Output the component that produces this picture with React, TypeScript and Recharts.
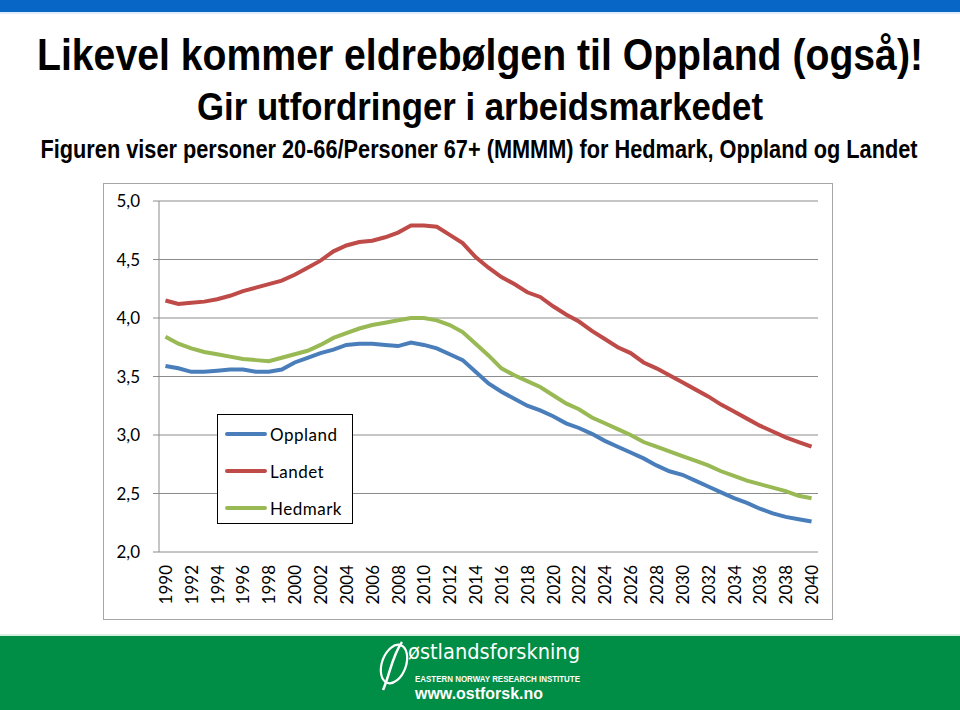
import React from 'react';
import { LineChart, Line, XAxis, YAxis, CartesianGrid } from 'recharts';

// Categories: one point per year
const years = Array.from({ length: 51 }, (_, i) => 1990 + i);

// Personer 20-66 / personer 67+ (MMMM)
const oppland = [
  3.59, 3.57, 3.54, 3.54, 3.55, 3.56, 3.56, 3.54, 3.54, 3.56,
  3.62, 3.66, 3.70, 3.73, 3.77, 3.78, 3.78, 3.77, 3.76, 3.79,
  3.77, 3.74, 3.69, 3.64, 3.54, 3.44, 3.37, 3.31, 3.25, 3.21,
  3.16, 3.10, 3.06, 3.01, 2.95, 2.90, 2.85, 2.80, 2.74, 2.69,
  2.66, 2.61, 2.56, 2.51, 2.46, 2.42, 2.37, 2.33, 2.30, 2.28, 2.26,
];
const landet = [
  4.15, 4.12, 4.13, 4.14, 4.16, 4.19, 4.23, 4.26, 4.29, 4.32,
  4.37, 4.43, 4.49, 4.57, 4.62, 4.65, 4.66, 4.69, 4.73, 4.79,
  4.79, 4.78, 4.71, 4.64, 4.52, 4.43, 4.35, 4.29, 4.22, 4.18,
  4.10, 4.03, 3.97, 3.89, 3.82, 3.75, 3.70, 3.62, 3.57, 3.51,
  3.45, 3.39, 3.33, 3.26, 3.20, 3.14, 3.08, 3.03, 2.98, 2.94, 2.90,
];
const hedmark = [
  3.84, 3.78, 3.74, 3.71, 3.69, 3.67, 3.65, 3.64, 3.63, 3.66,
  3.69, 3.72, 3.77, 3.83, 3.87, 3.91, 3.94, 3.96, 3.98, 4.00,
  4.00, 3.98, 3.94, 3.88, 3.78, 3.68, 3.57, 3.51, 3.46, 3.41,
  3.34, 3.27, 3.22, 3.15, 3.10, 3.05, 3.00, 2.94, 2.90, 2.86,
  2.82, 2.78, 2.74, 2.69, 2.65, 2.61, 2.58, 2.55, 2.52, 2.48, 2.46,
];

const yTicks = [2.0, 2.5, 3.0, 3.5, 4.0, 4.5, 5.0];
const labelYears = years.filter((y) => y % 2 === 0);
const tickBounds = [...years.map((y) => y - 0.5), 2040.5];

const series = [
  { key: 'oppland', name: 'Oppland', color: '#4a7ebb' },
  { key: 'landet', name: 'Landet', color: '#be4b48' },
  { key: 'hedmark', name: 'Hedmark', color: '#98b954' },
];

const data = years.map((year, i) => ({
  year,
  oppland: oppland[i],
  landet: landet[i],
  hedmark: hedmark[i],
}));

const chartFont = 'Lato, "Open Sans", sans-serif';
const titleFont = '"Liberation Sans Narrow", "Liberation Sans", Arial, sans-serif';

// condensed bold heading: smaller font stretched vertically, fitted to width
const Heading = ({ y, size, stretch, width, cx = 480, children }: any) => (
  <text
    transform={`translate(${cx},${y}) scale(1,${stretch})`}
    textAnchor="middle"
    fontFamily={titleFont}
    fontWeight="bold"
    fontSize={size}
    textLength={width}
    lengthAdjust="spacingAndGlyphs"
  >
    {children}
  </text>
);

const YearTick = (props: any) => {
  const { x, y, payload } = props;
  return (
    <text
      transform={`translate(${x},${y + 5}) rotate(-90)`}
      textAnchor="end"
      dominantBaseline="central"
      fontSize={17}
      fontFamily={chartFont}
      fill="#000"
    >
      {payload.value}
    </text>
  );
};

const Legend = () => (
  <div
    style={{
      position: 'absolute',
      left: 217,
      top: 414,
      width: 134,
      height: 108,
      border: '1px solid #000',
      background: '#fff',
      fontFamily: chartFont,
      fontSize: 17,
    }}
  >
    {series.map((s, i) => (
      <div
        key={s.key}
        style={{ position: 'absolute', left: 7, top: 8 + i * 37, height: 22, display: 'flex', alignItems: 'center' }}
      >
        <div style={{ width: 42, height: 4, background: s.color, borderRadius: 2 }} />
        <span style={{ marginLeft: 3, letterSpacing: 0.5 }}>{s.name}</span>
      </div>
    ))}
  </div>
);

export default function App() {
  return (
    <div style={{ position: 'absolute', left: 0, top: 0, width: 960, height: 710, background: '#fff', overflow: 'hidden' }}>
      <svg width={960} height={175} style={{ position: 'absolute', left: 0, top: 0 }}>
        <rect x={0} y={0} width={960} height={12} fill="#0766c6" />
        <rect x={0} y={12} width={960} height={2} fill="#dfeefa" />
        <Heading y={70} size={39} stretch={1.15} width={886}>
          Likevel kommer eldrebølgen til Oppland (også)!
        </Heading>
        <Heading y={120} size={37} stretch={1.05} width={566}>
          Gir utfordringer i arbeidsmarkedet
        </Heading>
        <Heading y={158} cx={479} size={21} stretch={1.19} width={877}>
          Figuren viser personer 20-66/Personer 67+ (MMMM) for Hedmark, Oppland og Landet
        </Heading>
      </svg>

      <div style={{ position: 'absolute', left: 103, top: 183, width: 728, height: 435, border: '1px solid #a6a6a6' }} />

      <div style={{ position: 'absolute', left: 103, top: 183 }}>
        <LineChart width={730} height={437} data={data} margin={{ top: 18, right: 15, bottom: 0, left: 0 }}>
          <CartesianGrid vertical={false} stroke="#8c8c8c" strokeWidth={1} />
          <XAxis
            xAxisId="marks"
            type="number"
            dataKey="year"
            domain={[1989.5, 2040.5]}
            ticks={tickBounds}
            interval={0}
            tick={false}
            tickSize={6}
            height={0}
            axisLine={{ stroke: '#8c8c8c' }}
            tickLine={{ stroke: '#8c8c8c' }}
          />
          <XAxis
            xAxisId="labels"
            type="number"
            dataKey="year"
            domain={[1989.5, 2040.5]}
            ticks={labelYears}
            interval={0}
            tick={<YearTick />}
            tickLine={false}
            axisLine={false}
            height={68}
          />
          <YAxis
            domain={[2, 5]}
            ticks={yTicks}
            interval={0}
            width={56}
            tickSize={6}
            tickMargin={13}
            tickFormatter={(v: number) => v.toFixed(1).replace('.', ',')}
            tick={{ fill: '#000', fontSize: 17, fontFamily: chartFont }}
            axisLine={{ stroke: '#8c8c8c' }}
            tickLine={{ stroke: '#8c8c8c' }}
          />
          {series.map((s) => (
            <Line
              key={s.key}
              xAxisId="labels"
              type="linear"
              dataKey={s.key}
              name={s.name}
              stroke={s.color}
              strokeWidth={4}
              dot={false}
              activeDot={false}
              isAnimationActive={false}
            />
          ))}
        </LineChart>
      </div>

      <Legend />

      <div style={{ position: 'absolute', left: 0, top: 634, width: 960, height: 2, background: '#d8eee0' }} />
      <div style={{ position: 'absolute', left: 0, top: 636, width: 960, height: 74, background: '#008d45' }}>
        <svg width={960} height={74} style={{ position: 'absolute', left: 0, top: 0 }}>
          <ellipse cx={394} cy={28} rx={12} ry={20} fill="none" stroke="#fff" strokeWidth={2.2} transform="rotate(20 394 28)" />
          <path d="M 402 6 C 392 20, 390 38, 383 54" fill="none" stroke="#fff" strokeWidth={2.5} />
          <text x={408} y={23} fontFamily={'"DejaVu Sans", sans-serif'} fontSize={21} fill="#fff"
            textLength={172} lengthAdjust="spacingAndGlyphs">
            østlandsforskning
          </text>
          <text x={415} y={46} fontFamily={'"Liberation Sans", Arial, sans-serif'} fontWeight="bold" fontSize={9}
            fill="#fff" textLength={165} lengthAdjust="spacingAndGlyphs">
            EASTERN NORWAY RESEARCH INSTITUTE
          </text>
          <text x={415} y={63} fontFamily={'"Liberation Sans", Arial, sans-serif'} fontWeight="bold" fontSize={17}
            fill="#fff" textLength={128} lengthAdjust="spacingAndGlyphs">
            www.ostforsk.no
          </text>
        </svg>
      </div>
    </div>
  );
}
